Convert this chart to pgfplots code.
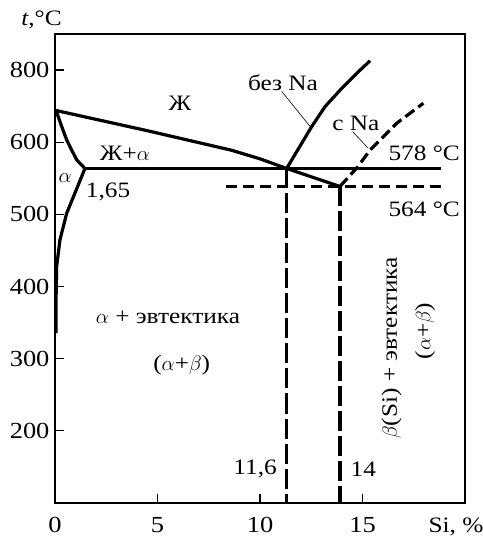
\documentclass[border=0pt]{standalone}
\usepackage{fontspec}
\setmainfont{Liberation Serif}[FakeStretch=1.15]
\usepackage{pgfplots}
\pgfplotsset{compat=1.18}

\begin{document}
\begin{tikzpicture}[font=\fontsize{22}{26}\selectfont]
\useasboundingbox (-55pt,-35pt) rectangle (427pt,503pt);
\begin{axis}[
    at={(0pt,0pt)}, anchor=south west,
    scale only axis,
    width=410pt, height=469pt,
    axis lines=box,
    xmin=0, xmax=20, ymin=100, ymax=750,
    xtick={0,5,10,15},
    ytick={200,300,400,500,600,700},
    yticklabels={200,300,400,500,600,800},
    tick align=inside, xtick pos=bottom, ytick pos=left,
    major tick length=9pt,
    axis line style={line width=1.2pt},
    tick style={line width=1.2pt, black},
    xticklabel style={yshift=-11pt},
    yticklabel style={xshift=-2pt},
    ticklabel style={font=\fontsize{23}{27}\selectfont},
    /pgf/number format/assume math mode=true,
    clip=false,
]
% liquidus (Al side) and its continuation to the modified eutectic
\addplot[line width=3.2pt, line join=round, no marks] coordinates {
    (0.05,644) (4.5,616) (8.6,589) (10,577) (11.3,563.6) (13.9,538.7)
};
% solidus + solvus of alpha
\addplot[line width=3.2pt, line join=round, no marks] coordinates {
    (0.05,644) (0.33,621.6) (0.57,603.2) (0.81,589.3) (1.06,575.5) (1.46,563.6)
};
\addplot[line width=3.2pt, line join=round, no marks] coordinates {
    (1.46,563.6) (1.09,537.7) (0.57,501.5) (0.24,464.5) (0.08,427.5) (0.05,380) (0.05,335.6)
};
% eutectic line 578
\addplot[line width=3.2pt, no marks] coordinates {(1.46,563.6) (18.83,563.6)};
% Si liquidus without Na
\addplot[line width=3.2pt, line join=round, no marks] coordinates {
    (11.3,563.6) (12.52,621.6) (13.17,649.3) (13.99,674.8) (14.72,695.6) (15.37,713)
};
% with Na (dashed)
\addplot[line width=3.2pt, dash pattern=on 11pt off 5pt, no marks] coordinates {
    (13.9,538.7) (14.77,566) (15.37,589.3) (16.67,626.3) (17.97,654)
};
% eutectic line 564 (dashed)
\addplot[line width=3.2pt, dash pattern=on 11pt off 6pt, no marks] coordinates {(8.36,538.7) (18.9,538.7)};
% vertical dashed lines
\addplot[line width=3.2pt, dash pattern=on 20pt off 5pt, no marks] coordinates {(11.3,563.6) (11.3,100)};
\addplot[line width=3.2pt, dash pattern=on 20pt off 5pt, no marks] coordinates {(13.9,538.7) (13.9,100)};
% leader lines
\addplot[line width=0.6pt, no marks] coordinates {(11.06,670.5) (12.44,622)};
\addplot[line width=0.6pt, no marks] coordinates {(14.52,614.6) (15.28,591.6)};

\node at (axis cs:6.1,654.4) {Ж};
\node at (axis cs:3.41,585.1) {Ж+$\alpha$};
\node at (axis cs:0.49,550.4) {$\alpha$};
\node at (axis cs:2.59,531) {1,65};
\node at (axis cs:11.12,682) {без Na};
\node at (axis cs:14.68,626.3) {с Na};
\node at (axis cs:18.01,584.7) {578 °C};
\node at (axis cs:18.01,507.2) {564 °C};
\node at (axis cs:5.51,357.8) {$\alpha$ + эвтектика};
\node at (axis cs:6.18,291.3) {($\alpha$+$\beta$)};
\node at (axis cs:9.76,147.1) {11,6};
\node at (axis cs:15.04,147) {14};
\node[rotate=90] at (axis cs:16.42,314.8) {$\beta$(Si) + эвтектика};
\node[rotate=90] at (axis cs:18.05,338.4) {($\alpha$+$\beta$)};
\node at (axis cs:-0.66,769.4) {\textit{t},°C};
\node at (axis cs:19.56,66.7) {Si, \%};
\end{axis}
\draw[line width=1.4pt] (0,468.5pt) -- (409.5pt,468.5pt) -- (409.5pt,0);
\end{tikzpicture}
\end{document}
